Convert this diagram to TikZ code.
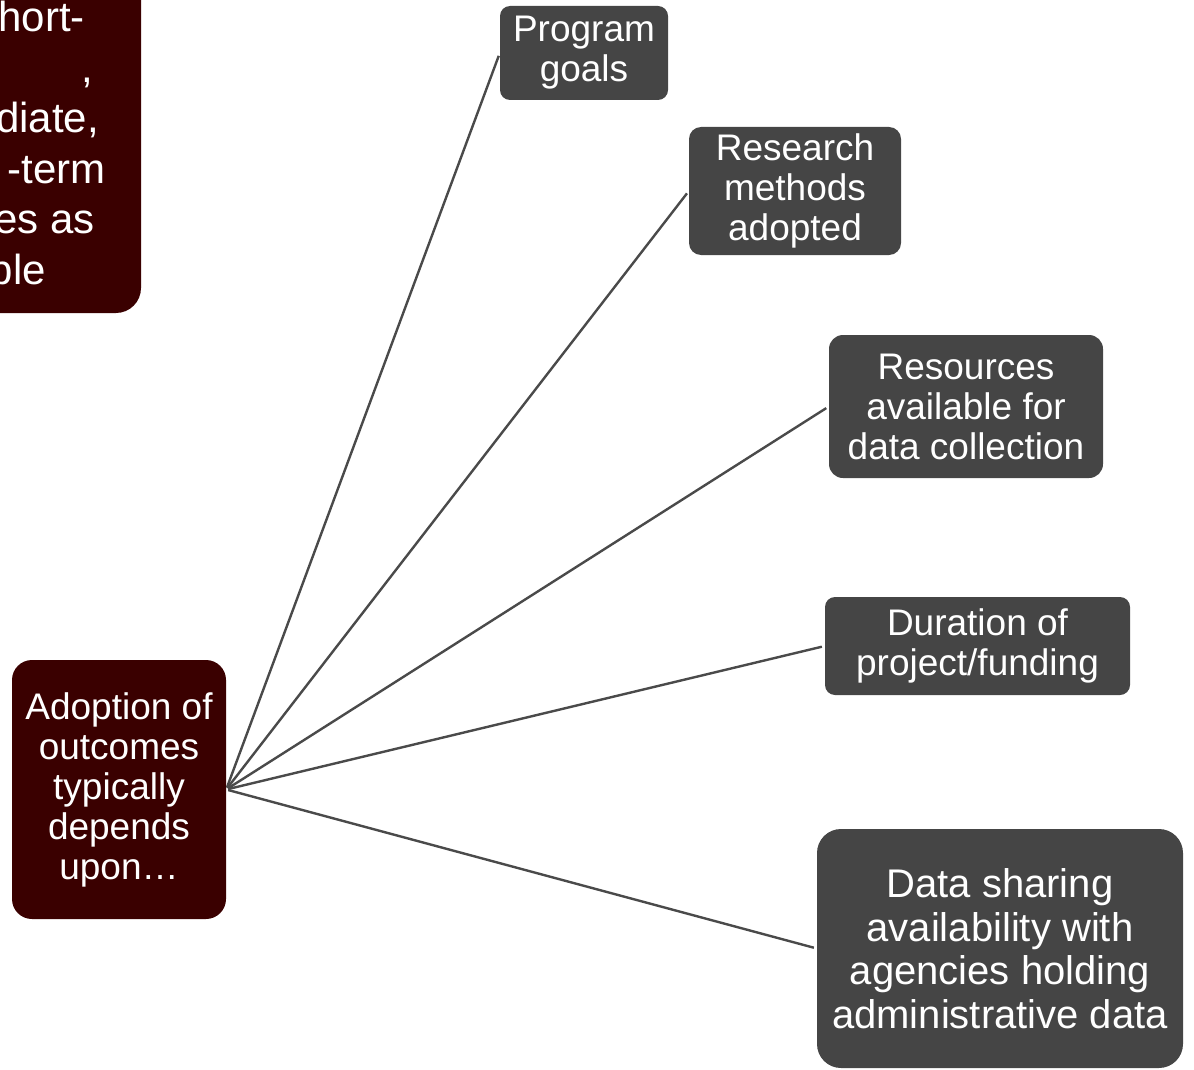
\documentclass[tikz,border=0pt]{standalone}
\usepackage{fontspec}
\setmainfont{Liberation Sans}
\usepackage{tikz}
\definecolor{oxblood}{HTML}{3A0000}
\definecolor{slate}{HTML}{454545}
\definecolor{linegrey}{HTML}{4A4A4A}

\tikzset{
	greybox/.style={rectangle, fill=slate, text=white, inner sep=0pt, align=center,
		font=\fontsize{37}{40}\selectfont},
	hubbox/.style={greybox, fill=oxblood},
	cuttext/.style={text=white, inner sep=0pt, anchor=base east, font=\fontsize{42}{50}\selectfont},
	wire/.style={draw=linegrey, line width=2.4pt, shorten <=2pt, shorten >=3pt}
}

\begin{document}
\begin{tikzpicture}[x=1pt, y=-1pt]
% page frame
\useasboundingbox (0,0) rectangle (1194,1070);
\clip (0,0) rectangle (1194,1070);

	% box cut by the left edge
	\node[hubbox, minimum width=221, minimum height=393, rounded corners=25pt] (aims) at (30.5,116.5) {};
	\node[cuttext] (cut1) at (85,32) {hort-};
	\node[cuttext] (cut2) at (93,82.4) {,};
	\node[cuttext] (cut3) at (99,132.8) {diate,};
	\node[cuttext] (cut4) at (106,183.2) {-term};
	\node[cuttext] (cut5) at (95,233.6) {es as};
	\node[cuttext] (cut6) at (46,284) {ble};

	% draw nodes
	\node[hubbox, minimum width=214, minimum height=259, rounded corners=20pt] (adopt) at (119,789.5)
		{Adoption of\\outcomes\\typically\\depends\\upon\dots};
	\node[greybox, minimum width=168, minimum height=94, rounded corners=10pt] (goals) at (584,53)
		{Program\\goals};
	\node[greybox, minimum width=212, minimum height=128, rounded corners=12pt] (methods) at (795,191)
		{Research\\methods\\adopted};
	\node[greybox, minimum width=274, minimum height=143, rounded corners=14pt] (resources) at (966,406.5)
		{Resources\\available for\\data collection};
	\node[greybox, minimum width=305, minimum height=98, rounded corners=10pt] (duration) at (977.5,646)
		{Duration of\\project/funding};
	\node[greybox, minimum width=366, minimum height=239, rounded corners=24pt,
		font=\fontsize{40}{43.5}\selectfont] (sharing) at (1000,948.5)
		{Data sharing\\availability with\\agencies holding\\administrative data};

	% draw connectors
	\draw[wire] (adopt.east) -- (goals.west);
	\draw[wire] (adopt.east) -- (methods.west);
	\draw[wire] (adopt.east) -- (resources.west);
	\draw[wire] (adopt.east) -- (duration.west);
	\draw[wire] (adopt.east) -- (sharing.west);
\end{tikzpicture}
\end{document}
